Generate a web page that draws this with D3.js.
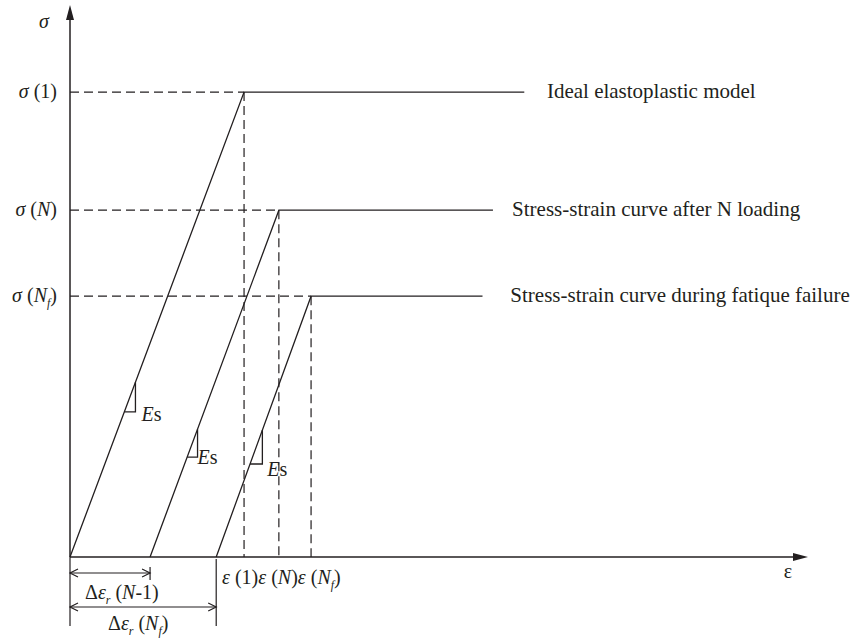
<!DOCTYPE html>
<html>
<head>
<meta charset="utf-8">
<script src="https://cdn.jsdelivr.net/npm/d3@7"></script>
<style>
  body { margin: 0; background: #fff; }
  text { font-family: "Liberation Serif", "DejaVu Serif", serif; fill: #231f20; }
</style>
</head>
<body>
<div id="chart"></div>
<script>
// Stress-strain curves (schematic), stress in % of sigma(1), strain in units of eps(1)

const curveNames = ["Ideal elastoplastic model", "Stress-strain curve after N loading", "Stress-strain curve during fatique failure"]
const residualStrain = [0, 0.46, 0.84]
const yieldStrain = [1.0, 1.2, 1.385]
const yieldStress = [100, 74.6, 56.1]
const plateauEnd = [2.61, 2.43, 2.37]
const nameStrain = [2.74, 2.54, 2.53]
// tick label: [main, italic?, subscript]
const stateLabels = [["1", false, ""], ["N", true, ""], ["N", true, "f"]]
// slope triangles: stress range on each curve
const triLow = [31.2, 21.5, 20.0]
const triHigh = [37.6, 27.5, 27.3]
const esOffset = [[6, 9], [0, 7], [5, 12]]

var width = 856
var height = 641
var fs = 20

const svg = d3.select("#chart")
.append("svg")
.attr("width", width)
.attr("height", height)

var x = d3.scaleLinear().domain([0, 4.24]).range([70, 808])
var y = d3.scaleLinear().domain([0, 118.3]).range([557, 7])

var ink = "#231f20"

// strain at given stress on a curve
function strainAt(i, s) {
    return residualStrain[i] + (yieldStrain[i] - residualStrain[i]) * s / yieldStress[i]
}

// writes "(N_f)" style bracket into a text node
function addState(t, lab) {
    t.append("tspan").text("(")
    var m = t.append("tspan").text(lab[0])
    if (lab[1]) m.attr("font-style", "italic")
    if (lab[2]) {
        t.append("tspan").attr("font-style", "italic").attr("font-size", 12).attr("dy", 5).text(lab[2])
        t.append("tspan").attr("dy", -5).text(")")
    } else {
        t.append("tspan").text(")")
    }
}

// dashed guides
yieldStress.forEach(function (s, i) {
    svg.append("line")
    .attr("x1", x(0)).attr("x2", x(yieldStrain[i]))
    .attr("y1", y(s)).attr("y2", y(s))
    .attr("stroke", ink).attr("stroke-width", 1.2)
    .attr("stroke-dasharray", "9,5")
    svg.append("line")
    .attr("x1", x(yieldStrain[i])).attr("x2", x(yieldStrain[i]))
    .attr("y1", y(s)).attr("y2", y(0))
    .attr("stroke", ink).attr("stroke-width", 1.2)
    .attr("stroke-dasharray", "9,5")
})

// the curves
var line = d3.line().x(d => x(d[0])).y(d => y(d[1]))
curveNames.forEach(function (name, i) {
    var pts = [[residualStrain[i], 0], [yieldStrain[i], yieldStress[i]], [plateauEnd[i], yieldStress[i]]]
    svg.append("path")
    .attr("d", line(pts))
    .attr("fill", "none")
    .attr("stroke", ink)
    .attr("stroke-width", 1.3)

    svg.append("text")
    .attr("x", x(nameStrain[i]))
    .attr("y", y(yieldStress[i]) + 6)
    .attr("font-size", 21)
    .text(name)

    // slope triangle
    var xa = x(strainAt(i, triLow[i]))
    var xb = x(strainAt(i, triHigh[i]))
    svg.append("path")
    .attr("d", "M" + xb + "," + y(triHigh[i]) + "L" + xb + "," + y(triLow[i]) + "L" + xa + "," + y(triLow[i]))
    .attr("fill", "none")
    .attr("stroke", ink)
    .attr("stroke-width", 1.3)

    var es = svg.append("text")
    .attr("x", xb + esOffset[i][0])
    .attr("y", y(triLow[i]) + esOffset[i][1])
    .attr("font-size", fs)
    es.append("tspan").attr("font-style", "italic").text("E")
    es.append("tspan").text("s")
})

// axes
svg.append("line")
.attr("x1", x(0)).attr("x2", x(0))
.attr("y1", y(0)).attr("y2", y(116))
.attr("stroke", ink).attr("stroke-width", 1.5)
svg.append("path")
.attr("d", "M" + x(0) + "," + (y(118.3) - 2) + "l-4,15l8,0z")
.attr("fill", ink)

svg.append("line")
.attr("x1", x(0)).attr("x2", x(4.18))
.attr("y1", y(0)).attr("y2", y(0))
.attr("stroke", ink).attr("stroke-width", 1.5)
svg.append("path")
.attr("d", "M" + x(4.24) + "," + y(0) + "l-15,-4l0,8z")
.attr("fill", ink)

svg.append("text")
.attr("x", 44).attr("y", 28)
.attr("font-size", fs)
.attr("font-style", "italic")
.attr("text-anchor", "middle")
.text("σ")

svg.append("text")
.attr("x", 788).attr("y", 578)
.attr("font-size", fs)
.attr("text-anchor", "middle")
.text("ε")

// stress tick labels
stateLabels.forEach(function (lab, i) {
    var t = svg.append("text")
    .attr("x", 57)
    .attr("y", y(yieldStress[i]) + 6)
    .attr("font-size", fs)
    .attr("text-anchor", "end")
    t.append("tspan").attr("font-style", "italic").text("σ ")
    addState(t, lab)
})

// strain labels under the axis
var st = svg.append("text")
.attr("x", 222).attr("y", 584)
.attr("font-size", fs)
stateLabels.forEach(function (lab) {
    st.append("tspan").attr("font-style", "italic").text("ε ")
    addState(st, lab)
})

// residual strain dimension arrows
var dims = [
    {to: residualStrain[1], yy: 573, top: 567, bot: 580, lab: ["N-1", true, ""], lx: 85, ly: 599},
    {to: residualStrain[2], yy: 607, top: 559, bot: 626, lab: ["N", true, "f"], lx: 108, ly: 630}
]
svg.append("line")
.attr("x1", x(0)).attr("x2", x(0))
.attr("y1", y(0)).attr("y2", 626)
.attr("stroke", ink).attr("stroke-width", 1.2)
dims.forEach(function (d) {
    var x0 = x(0), x1 = x(d.to)
    svg.append("line")
    .attr("x1", x1).attr("x2", x1)
    .attr("y1", d.top).attr("y2", d.bot)
    .attr("stroke", ink).attr("stroke-width", 1.2)
    svg.append("line")
    .attr("x1", x0).attr("x2", x1)
    .attr("y1", d.yy).attr("y2", d.yy)
    .attr("stroke", ink).attr("stroke-width", 1.2)
    svg.append("path")
    .attr("d", "M" + (x0 + 8) + "," + (d.yy - 4) + "L" + x0 + "," + d.yy + "L" + (x0 + 8) + "," + (d.yy + 4)
        + "M" + (x1 - 8) + "," + (d.yy - 4) + "L" + x1 + "," + d.yy + "L" + (x1 - 8) + "," + (d.yy + 4))
    .attr("fill", "none")
    .attr("stroke", ink).attr("stroke-width", 1.2)

    var t = svg.append("text")
    .attr("x", d.lx).attr("y", d.ly)
    .attr("font-size", fs)
    t.append("tspan").text("Δ")
    t.append("tspan").attr("font-style", "italic").text("ε")
    t.append("tspan").attr("font-style", "italic").attr("font-size", 12).attr("dy", 5).text("r")
    t.append("tspan").attr("dy", -5).text(" ")
    if (d.lab[2]) {
        addState(t, d.lab)
    } else {
        t.append("tspan").text("(")
        t.append("tspan").attr("font-style", "italic").text("N")
        t.append("tspan").text("-1)")
    }
})
</script>
</body>
</html>
